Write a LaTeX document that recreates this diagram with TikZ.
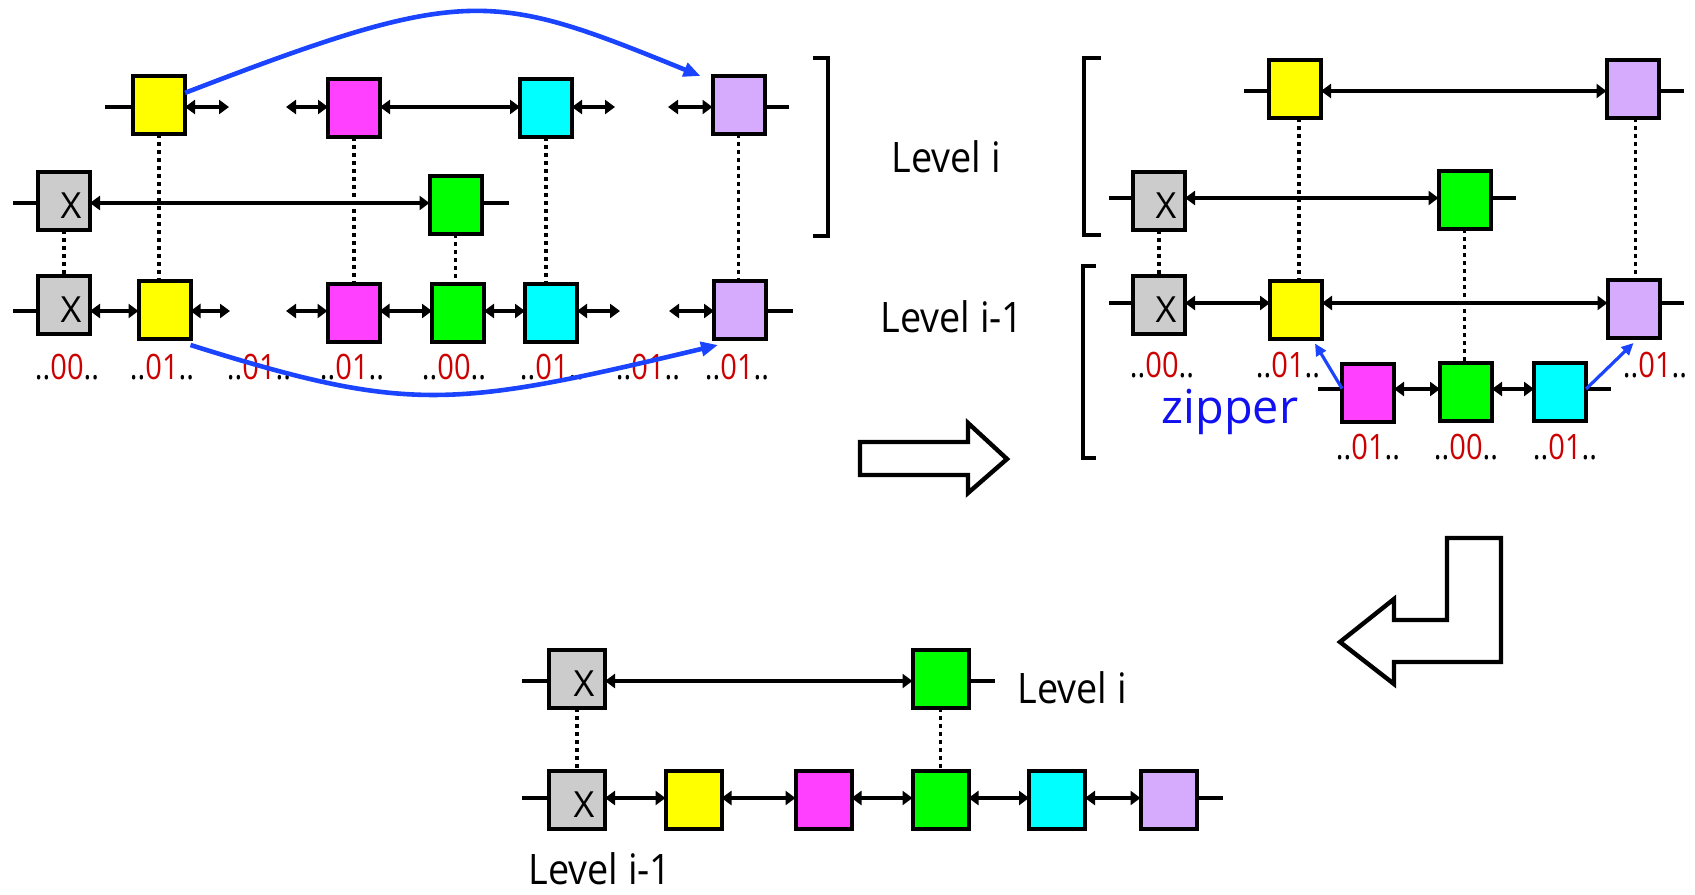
\documentclass[tikz,border=0pt]{standalone}
\usepackage{fontspec}
\setmainfont{Open Sans}
\usetikzlibrary{arrows.meta}

\definecolor{cyel}{HTML}{FFFF00}
\definecolor{cmag}{HTML}{FF40FF}
\definecolor{ccya}{HTML}{00FFFF}
\definecolor{cgrn}{HTML}{00FF00}
\definecolor{cpur}{HTML}{D6AAFC}
\definecolor{cgry}{HTML}{CCCCCC}
\definecolor{cred}{HTML}{CC0000}
\definecolor{cblu}{HTML}{1A44FF}
\definecolor{ctxt}{HTML}{1010F0}

% "..01.." style membership-vector labels
\newcommand{\bitlabel}[1]{\scalebox{0.83}[1]{..\textcolor{cred}{#1}..}}
\newcommand{\lvltext}[1]{\scalebox{0.9}[1]{#1}}

\begin{document}
\begin{tikzpicture}[x=0.5pt,y=-0.5pt,
  cell/.style={draw=black, line width=2pt, minimum width=26pt, minimum height=29pt, inner sep=0pt, outer sep=0pt},
  wcell/.style={cell, minimum width=28pt},
  xmark/.style={label={[font=\fontsize{18}{20}\selectfont, xshift=3.5pt, yshift=-2.5pt]center:X}},
  lnk/.style={line width=1.9pt},
  dbl/.style={lnk, {Triangle[length=5pt,width=7pt]}-{Triangle[length=5pt,width=7pt]}},
  vdots/.style={line width=1.7pt, dash pattern=on 2pt off 2pt},
  jump/.style={draw=cblu, line width=2.3pt, -{Triangle[length=8.5pt,width=7pt]}},
  zip/.style={draw=cblu, line width=1.6pt, -{Triangle[length=6pt,width=5.5pt]}},
  bits/.style={anchor=base, inner sep=0pt, font=\fontsize{17.5}{19}\selectfont},
  lvl/.style={anchor=base, inner sep=0pt, font=\fontsize{21}{24}\selectfont},
  brk/.style={line width=2pt},
  bigarrow/.style={draw=black, line width=2.2pt, fill=white, line join=miter}
]
\useasboundingbox (0,0) rectangle (1695,894);

% ---------------- left panel: before the deletion ----------------
\node[cell,fill=cyel] (a1) at (159,105) {};
\node[cell,fill=cmag] (a2) at (354,107.5) {};
\node[cell,fill=ccya] (a3) at (546,107.5) {};
\node[cell,fill=cpur] (a4) at (738.5,105) {};
\node[cell,fill=cgry,xmark] (b1) at (64,200.5) {};
\node[cell,fill=cgrn] (b2) at (455.5,205) {};
\node[cell,fill=cgry,xmark] (c1) at (64,305) {};
\node[cell,fill=cyel] (c2) at (164.5,310) {};
\node[cell,fill=cmag] (c3) at (353.5,312.5) {};
\node[cell,fill=cgrn] (c4) at (458,313) {};
\node[cell,fill=ccya] (c5) at (551,313) {};
\node[cell,fill=cpur] (c6) at (740,310) {};

\coordinate (rA) at (0,107);
\coordinate (sA0) at (105,107); \coordinate (fA1) at (229,107);
\coordinate (fA2) at (286,107); \coordinate (fA3) at (615,107);
\coordinate (fA4) at (668,107); \coordinate (sA5) at (789,107);
\draw[lnk] (sA0) -- (a1.west |- rA);
\draw[dbl] (a1.east |- rA) -- (fA1);
\draw[dbl] (fA2) -- (a2.west |- rA);
\draw[dbl] (a2.east |- rA) -- (a3.west |- rA);
\draw[dbl] (a3.east |- rA) -- (fA3);
\draw[dbl] (fA4) -- (a4.west |- rA);
\draw[lnk] (a4.east |- rA) -- (sA5);

\coordinate (rB) at (0,203);
\coordinate (sB0) at (13,203); \coordinate (sB1) at (509,203);
\draw[lnk] (sB0) -- (b1.west |- rB);
\draw[dbl] (b1.east |- rB) -- (b2.west |- rB);
\draw[lnk] (b2.east |- rB) -- (sB1);

\coordinate (rC) at (0,311);
\coordinate (sC0) at (13,311); \coordinate (fC1) at (230,311);
\coordinate (fC2) at (286,311); \coordinate (fC3) at (620,311);
\coordinate (fC4) at (669,311); \coordinate (sC5) at (793,311);
\draw[lnk] (sC0) -- (c1.west |- rC);
\draw[dbl] (c1.east |- rC) -- (c2.west |- rC);
\draw[dbl] (c2.east |- rC) -- (fC1);
\draw[dbl] (fC2) -- (c3.west |- rC);
\draw[dbl] (c3.east |- rC) -- (c4.west |- rC);
\draw[dbl] (c4.east |- rC) -- (c5.west |- rC);
\draw[dbl] (c5.east |- rC) -- (fC3);
\draw[dbl] (fC4) -- (c6.west |- rC);
\draw[lnk] (c6.east |- rC) -- (sC5);

\draw[vdots] (a1.south) -- (a1.south |- c2.north);
\draw[vdots] (a2.south) -- (a2.south |- c3.north);
\draw[vdots] (a3.south) -- (a3.south |- c5.north);
\draw[vdots] (a4.south) -- (a4.south |- c6.north);
\draw[vdots] (b1.south) -- (b1.south |- c1.north);
\draw[vdots] (b2.south) -- (b2.south |- c4.north);

\node[bits] (l1) at (67,379) {\bitlabel{00}};
\node[bits] (l2) at (162,379) {\bitlabel{01}};
\node[bits] (l3) at (259,379) {\bitlabel{01}};
\node[bits] (l4) at (352,379) {\bitlabel{01}};
\node[bits] (l5) at (454,379) {\bitlabel{00}};
\node[bits] (l6) at (552,379) {\bitlabel{01}};
\node[bits] (l7) at (648,379) {\bitlabel{01}};
\node[bits] (l8) at (737,379) {\bitlabel{01}};

\draw[jump] (a1.25) .. controls (468,-16) and (491,-9) .. ([xshift=-6pt]a4.north west);
\draw[jump] ([yshift=-3pt]c2.south east) .. controls (410,414) and (453,408) .. ([xshift=2pt,yshift=-3pt]c6.south west);

\draw[brk] (813,58) -- (828,58) -- (828,236) -- (813,236);

\node[lvl] (t1) at (946,172) {\lvltext{Level i}};
\node[lvl] (t2) at (952,332) {\lvltext{Level i-1}};

% ---------------- right panel: the level-i list split off ----------------
\node[cell,fill=cyel] (d1) at (1295,89) {};
\node[cell,fill=cpur] (d2) at (1632.5,89) {};
\node[cell,fill=cgry,xmark] (e1) at (1159,200.5) {};
\node[cell,fill=cgrn] (e2) at (1464.5,200) {};
\node[cell,fill=cgry,xmark] (f1) at (1159,305) {};
\node[cell,fill=cyel] (f2) at (1296,309.5) {};
\node[cell,fill=cpur] (f3) at (1633.5,309) {};
\node[cell,fill=cmag] (z1) at (1368,392.5) {};
\node[cell,fill=cgrn] (z2) at (1466,392) {};
\node[cell,fill=ccya] (z3) at (1560,392) {};

\coordinate (rD) at (0,91);
\coordinate (sD0) at (1244,91); \coordinate (sD1) at (1684,91);
\draw[lnk] (sD0) -- (d1.west |- rD);
\draw[dbl] (d1.east |- rD) -- (d2.west |- rD);
\draw[lnk] (d2.east |- rD) -- (sD1);

\coordinate (rE) at (0,198);
\coordinate (sE0) at (1109,198); \coordinate (sE1) at (1516,198);
\draw[lnk] (sE0) -- (e1.west |- rE);
\draw[dbl] (e1.east |- rE) -- (e2.west |- rE);
\draw[lnk] (e2.east |- rE) -- (sE1);

\coordinate (rF) at (0,303);
\coordinate (sF0) at (1109,303); \coordinate (sF1) at (1684,303);
\draw[lnk] (sF0) -- (f1.west |- rF);
\draw[dbl] (f1.east |- rF) -- (f2.west |- rF);
\draw[dbl] (f2.east |- rF) -- (f3.west |- rF);
\draw[lnk] (f3.east |- rF) -- (sF1);

\coordinate (rZ) at (0,389);
\coordinate (sZ0) at (1318,389); \coordinate (sZ1) at (1611,389);
\draw[lnk] (sZ0) -- (z1.west |- rZ);
\draw[dbl] (z1.east |- rZ) -- (z2.west |- rZ);
\draw[dbl] (z2.east |- rZ) -- (z3.west |- rZ);
\draw[lnk] (z3.east |- rZ) -- (sZ1);

\draw[vdots] (e1.south) -- (e1.south |- f1.north);
\draw[vdots] ([xshift=2pt]d1.south) -- ([xshift=2pt]d1.south |- f2.north);
\draw[vdots] (e2.south) -- (e2.south |- z2.north);
\draw[vdots] ([xshift=1.5pt]d2.south) -- ([xshift=1.5pt]d2.south |- f3.north);

\node[bits] (m1) at (1162,377) {\bitlabel{00}};
\node[bits] (m2) at (1288,377) {\bitlabel{01}};
\node[bits] (m3) at (1655,377) {\bitlabel{01}};
\node[bits] (m4) at (1368,459) {\bitlabel{01}};
\node[bits] (m5) at (1466,459) {\bitlabel{00}};
\node[bits] (m6) at (1565,459) {\bitlabel{01}};

\draw[zip] ([yshift=2pt]z1.west) -- ([xshift=-3.5pt,yshift=-2.5pt]f2.south east);
\draw[zip] ([yshift=1.5pt]z3.east) -- ([yshift=-2.5pt]f3.south);
\node[anchor=base, inner sep=0pt, text=ctxt, font=\fontsize{23.4}{26}\selectfont] (zt) at (1230,423) {zipper};

\draw[brk] (1101,58) -- (1084,58) -- (1084,235) -- (1101,235);
\draw[brk] (1096,266) -- (1083,266) -- (1083,458) -- (1096,458);

% ---------------- block arrows ----------------
\draw[bigarrow] (860,442) -- (968,442) -- (968,423) -- (1007,459) -- (968,493) -- (968,475) -- (860,475) -- cycle;
\draw[bigarrow] (1447,538) -- (1501,538) -- (1501,662) -- (1394,662) -- (1394,684) -- (1340,642) -- (1394,599) -- (1394,620) -- (1447,620) -- cycle;

% ---------------- bottom panel: after the deletion ----------------
\node[wcell,fill=cgry,xmark] (g1) at (577,679) {};
\node[wcell,fill=cgrn] (g2) at (940.5,679) {};
\node[wcell,fill=cgry,xmark] (h1) at (577,800) {};
\node[wcell,fill=cyel] (h2) at (693.5,800) {};
\node[wcell,fill=cmag] (h3) at (823.5,800) {};
\node[wcell,fill=cgrn] (h4) at (940.5,800) {};
\node[wcell,fill=ccya] (h5) at (1057,800) {};
\node[wcell,fill=cpur] (h6) at (1168.5,800) {};

\coordinate (rG) at (0,681);
\coordinate (sG0) at (522,681); \coordinate (sG1) at (995,681);
\draw[lnk] (sG0) -- (g1.west |- rG);
\draw[dbl] (g1.east |- rG) -- (g2.west |- rG);
\draw[lnk] (g2.east |- rG) -- (sG1);

\coordinate (rH) at (0,798);
\coordinate (sH0) at (522,798); \coordinate (sH1) at (1223,798);
\draw[lnk] (sH0) -- (h1.west |- rH);
\draw[dbl] (h1.east |- rH) -- (h2.west |- rH);
\draw[dbl] (h2.east |- rH) -- (h3.west |- rH);
\draw[dbl] (h3.east |- rH) -- (h4.west |- rH);
\draw[dbl] (h4.east |- rH) -- (h5.west |- rH);
\draw[dbl] (h5.east |- rH) -- (h6.west |- rH);
\draw[lnk] (h6.east |- rH) -- (sH1);

\draw[vdots] (g1.south) -- (g1.south |- h1.north);
\draw[vdots] (g2.south) -- (g2.south |- h4.north);

\node[lvl] (t3) at (1072,703) {\lvltext{Level i}};
\node[lvl] (t4) at (600,884) {\lvltext{Level i-1}};

\end{tikzpicture}
\end{document}
